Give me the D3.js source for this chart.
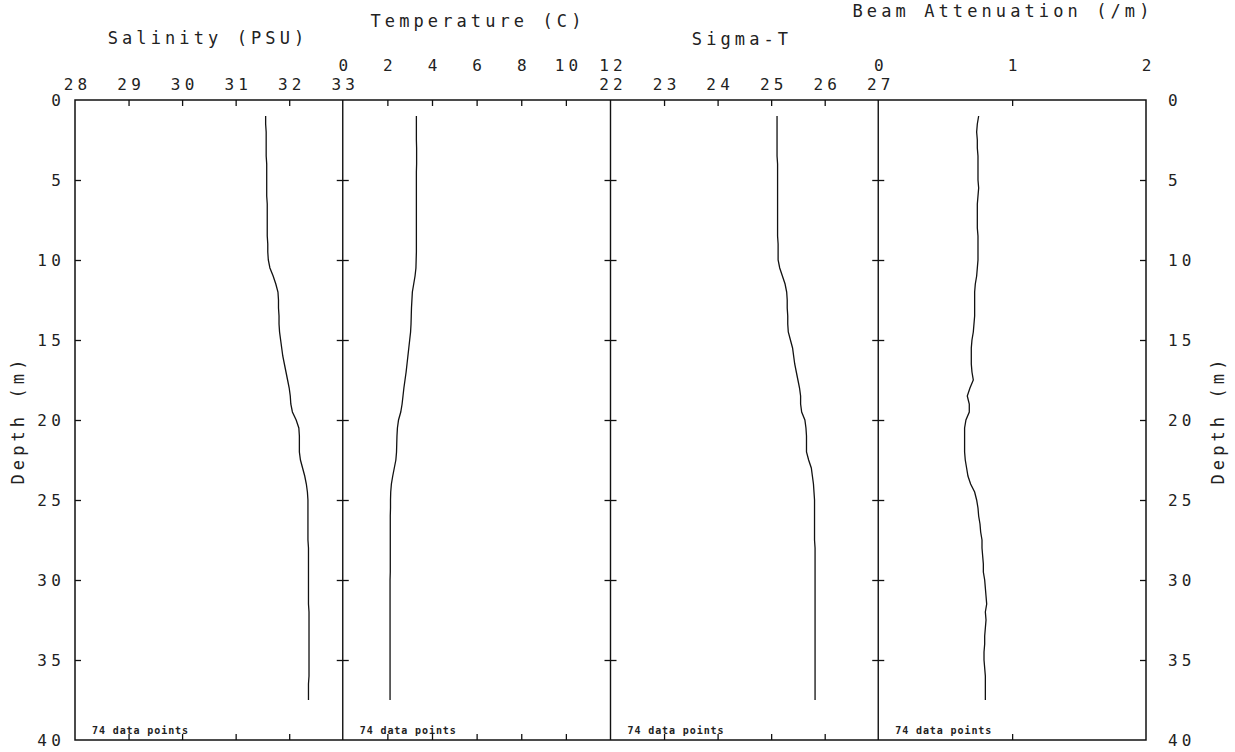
<!DOCTYPE html>
<html>
<head>
<meta charset="utf-8">
<script src="https://cdnjs.cloudflare.com/ajax/libs/d3/7.8.5/d3.min.js"></script>
<style>
    body { margin: 0; background: #fff; }
    text { font-family: "DejaVu Sans Mono", monospace; fill: #222; }
    .axis text { font-size: 16px; letter-spacing: 4.2px; }
    .title { font-size: 17px; letter-spacing: 4.1px; }
    .count { font-size: 10px; letter-spacing: 0.9px; font-weight: bold; }
</style>
</head>
<body>
<div id="profile"></div>
<script>
// depth of each sample (m), 74 data points
var depth = [1.0, 1.5, 2.0, 2.5, 3.0, 3.5, 4.0, 4.5, 5.0, 5.5, 6.0, 6.5, 7.0, 7.5, 8.0, 8.5, 9.0, 9.5,
    10.0, 10.5, 11.0, 11.5, 12.0, 12.5, 13.0, 13.5, 14.0, 14.5, 15.0, 15.5, 16.0, 16.5, 17.0, 17.5, 18.0, 18.5,
    19.0, 19.5, 20.0, 20.5, 21.0, 21.5, 22.0, 22.5, 23.0, 23.5, 24.0, 24.5, 25.0, 25.5, 26.0, 26.5, 27.0, 27.5,
    28.0, 28.5, 29.0, 29.5, 30.0, 30.5, 31.0, 31.5, 32.0, 32.5, 33.0, 33.5, 34.0, 34.5, 35.0, 35.5, 36.0, 36.5,
    37.0, 37.5];

var salinity = [31.56, 31.56, 31.57, 31.57, 31.57, 31.57, 31.58, 31.58, 31.58, 31.58, 31.58, 31.59, 31.59, 31.59, 31.59, 31.59, 31.60, 31.60,
    31.61, 31.64, 31.70, 31.75, 31.79, 31.80, 31.80, 31.81, 31.81, 31.82, 31.84, 31.86, 31.88, 31.91, 31.94, 31.97, 32.00, 32.02,
    32.03, 32.06, 32.13, 32.18, 32.19, 32.19, 32.19, 32.21, 32.25, 32.29, 32.32, 32.34, 32.35, 32.35, 32.35, 32.35, 32.35, 32.35,
    32.36, 32.36, 32.36, 32.36, 32.36, 32.36, 32.36, 32.36, 32.37, 32.37, 32.37, 32.37, 32.37, 32.37, 32.37, 32.37, 32.37, 32.36,
    32.36, 32.36];

var temperature = [3.30, 3.30, 3.30, 3.30, 3.31, 3.31, 3.31, 3.30, 3.30, 3.30, 3.30, 3.30, 3.30, 3.30, 3.30, 3.30, 3.30, 3.30,
    3.29, 3.28, 3.24, 3.18, 3.12, 3.10, 3.08, 3.07, 3.06, 3.04, 3.00, 2.96, 2.92, 2.88, 2.84, 2.79, 2.74, 2.70,
    2.66, 2.60, 2.50, 2.45, 2.43, 2.42, 2.41, 2.38, 2.31, 2.24, 2.18, 2.15, 2.14, 2.14, 2.13, 2.13, 2.13, 2.13,
    2.13, 2.13, 2.13, 2.13, 2.12, 2.12, 2.12, 2.12, 2.12, 2.12, 2.12, 2.12, 2.12, 2.12, 2.12, 2.12, 2.12, 2.12,
    2.12, 2.12];

var sigmaT = [25.11, 25.11, 25.11, 25.11, 25.11, 25.11, 25.12, 25.12, 25.12, 25.12, 25.12, 25.12, 25.12, 25.12, 25.12, 25.12, 25.13, 25.13,
    25.13, 25.16, 25.21, 25.26, 25.29, 25.30, 25.30, 25.31, 25.31, 25.32, 25.36, 25.40, 25.42, 25.44, 25.47, 25.50, 25.53, 25.55,
    25.55, 25.57, 25.63, 25.65, 25.66, 25.66, 25.66, 25.70, 25.75, 25.77, 25.79, 25.80, 25.81, 25.81, 25.81, 25.81, 25.81, 25.81,
    25.82, 25.82, 25.82, 25.82, 25.82, 25.82, 25.82, 25.82, 25.82, 25.82, 25.82, 25.82, 25.82, 25.82, 25.82, 25.82, 25.82, 25.82,
    25.82, 25.82];

var beamAttenuation = [0.750, 0.740, 0.735, 0.740, 0.740, 0.745, 0.745, 0.745, 0.745, 0.750, 0.745, 0.740, 0.740, 0.740, 0.740, 0.745, 0.745, 0.745,
    0.745, 0.740, 0.735, 0.725, 0.720, 0.720, 0.720, 0.720, 0.715, 0.710, 0.700, 0.695, 0.695, 0.695, 0.700, 0.710, 0.685, 0.665,
    0.680, 0.680, 0.655, 0.645, 0.645, 0.645, 0.645, 0.650, 0.660, 0.670, 0.690, 0.720, 0.735, 0.745, 0.750, 0.760, 0.765, 0.775,
    0.775, 0.780, 0.785, 0.785, 0.795, 0.800, 0.805, 0.810, 0.800, 0.805, 0.800, 0.795, 0.795, 0.790, 0.790, 0.795, 0.800, 0.800,
    0.800, 0.800];

var depthTicks = [0, 5, 10, 15, 20, 25, 30, 35, 40];
var salinityTicks = [28, 29, 30, 31, 32, 33];
var temperatureTicks = [0, 2, 4, 6, 8, 10, 12];
var sigmaTTicks = [22, 23, 24, 25, 26, 27];
var beamTicks = [0, 1, 2];

var titles = ['Salinity (PSU)', 'Temperature (C)', 'Sigma-T', 'Beam Attenuation (/m)'];
var depthTitle = 'Depth (m)';
var countLabel = '74 data points';

// table of panels built from the arrays above
var panels = [
    {title: titles[0], values: salinity, ticks: salinityTicks},
    {title: titles[1], values: temperature, ticks: temperatureTicks},
    {title: titles[2], values: sigmaT, ticks: sigmaTTicks},
    {title: titles[3], values: beamAttenuation, ticks: beamTicks}
];

var width = 1235, height = 752;
var margin = {top: 100, left: 75, right: 89, bottom: 12};
var plotRight = width - margin.right;
var plotBottom = height - margin.bottom;
var panelWidth = (plotRight - margin.left) / panels.length;

// vertical layout of the text above each panel
var labelPadding = [10, 29, 10, 29];
var titleY = [44, 27, 45, 17];
var titleX = [208, 478, 742, 1003];

var svg = d3.select('#profile')
    .append('svg')
    .attr('width', width)
    .attr('height', height);

var depthScale = d3.scaleLinear()
    .domain([0, 40])
    .range([margin.top, plotBottom]);

var line = d3.line();
var fmt = d3.format('d');

panels.forEach(function (panel, i) {
    var left = margin.left + panelWidth * i;
    var xScale = d3.scaleLinear()
        .domain(d3.extent(panel.ticks))
        .range([left, left + panelWidth]);

    var inner = panel.ticks.slice(1, -1);

    // top labels
    svg.append('g')
        .attr('class', 'axis')
        .attr('transform', 'translate(0,' + margin.top + ')')
        .call(d3.axisTop(xScale).tickValues(panel.ticks).tickSize(0).tickPadding(labelPadding[i]).tickFormat(fmt))
        .call(function (g) { g.select('.domain').remove(); })
        .call(function (g) { g.selectAll('text').attr('dx', '0.13em'); });

    // top ticks
    svg.append('g')
        .attr('transform', 'translate(0,' + margin.top + ')')
        .call(d3.axisTop(xScale).tickValues(inner).tickSize(-6).tickFormat(''))
        .call(function (g) { g.select('.domain').remove(); });

    // bottom ticks
    svg.append('g')
        .attr('transform', 'translate(0,' + plotBottom + ')')
        .call(d3.axisBottom(xScale).tickValues(inner).tickSize(-6).tickFormat(''))
        .call(function (g) { g.select('.domain').remove(); });

    svg.append('text')
        .attr('class', 'title')
        .attr('x', titleX[i])
        .attr('y', titleY[i])
        .attr('text-anchor', 'middle')
        .text(panel.title);

    svg.append('text')
        .attr('class', 'count')
        .attr('x', left + 17)
        .attr('y', plotBottom - 6)
        .text(countLabel);

    svg.append('path')
        .attr('d', line(panel.values.map(function (v, k) {
            return [xScale(v), depthScale(depth[k])];
        })))
        .attr('fill', 'none')
        .attr('stroke', '#111')
        .attr('stroke-width', 1.3);

    // ticks crossing the separators between panels
    if (i > 0) {
        svg.append('g')
            .attr('transform', 'translate(' + (left + 6) + ',0)')
            .call(d3.axisLeft(depthScale).tickValues(depthTicks.slice(1, -1)).tickSize(12).tickFormat(''))
            .call(function (g) { g.select('.domain').remove(); });
        svg.append('line')
            .attr('x1', left).attr('x2', left)
            .attr('y1', margin.top).attr('y2', plotBottom)
            .attr('stroke', '#111')
            .attr('stroke-width', 1.4);
    }
});

// left depth axis
svg.append('g')
    .attr('class', 'axis')
    .attr('transform', 'translate(' + margin.left + ',0)')
    .call(d3.axisLeft(depthScale).tickValues(depthTicks).tickSize(-6).tickPadding(10))
    .call(function (g) { g.select('.domain').remove(); })
    .call(function (g) { g.selectAll('.tick line').filter(function (d) { return d === 0 || d === 40; }).remove(); });

// right depth axis
svg.append('g')
    .attr('class', 'axis')
    .attr('transform', 'translate(' + plotRight + ',0)')
    .call(d3.axisRight(depthScale).tickValues(depthTicks).tickSize(-6).tickPadding(22))
    .call(function (g) { g.select('.domain').remove(); })
    .call(function (g) { g.selectAll('.tick line').filter(function (d) { return d === 0 || d === 40; }).remove(); });

svg.selectAll('.tick line').attr('stroke', '#111').attr('stroke-width', 1.3);

// frame
svg.append('rect')
    .attr('x', margin.left)
    .attr('y', margin.top)
    .attr('width', plotRight - margin.left)
    .attr('height', plotBottom - margin.top)
    .attr('fill', 'none')
    .attr('stroke', '#111')
    .attr('stroke-width', 1.5);

svg.append('text')
    .attr('class', 'title')
    .attr('transform', 'translate(24,' + 420 + ') rotate(-90)')
    .attr('text-anchor', 'middle')
    .text(depthTitle);

svg.append('text')
    .attr('class', 'title')
    .attr('transform', 'translate(1224,' + 420 + ') rotate(-90)')
    .attr('text-anchor', 'middle')
    .text(depthTitle);
</script>
</body>
</html>
